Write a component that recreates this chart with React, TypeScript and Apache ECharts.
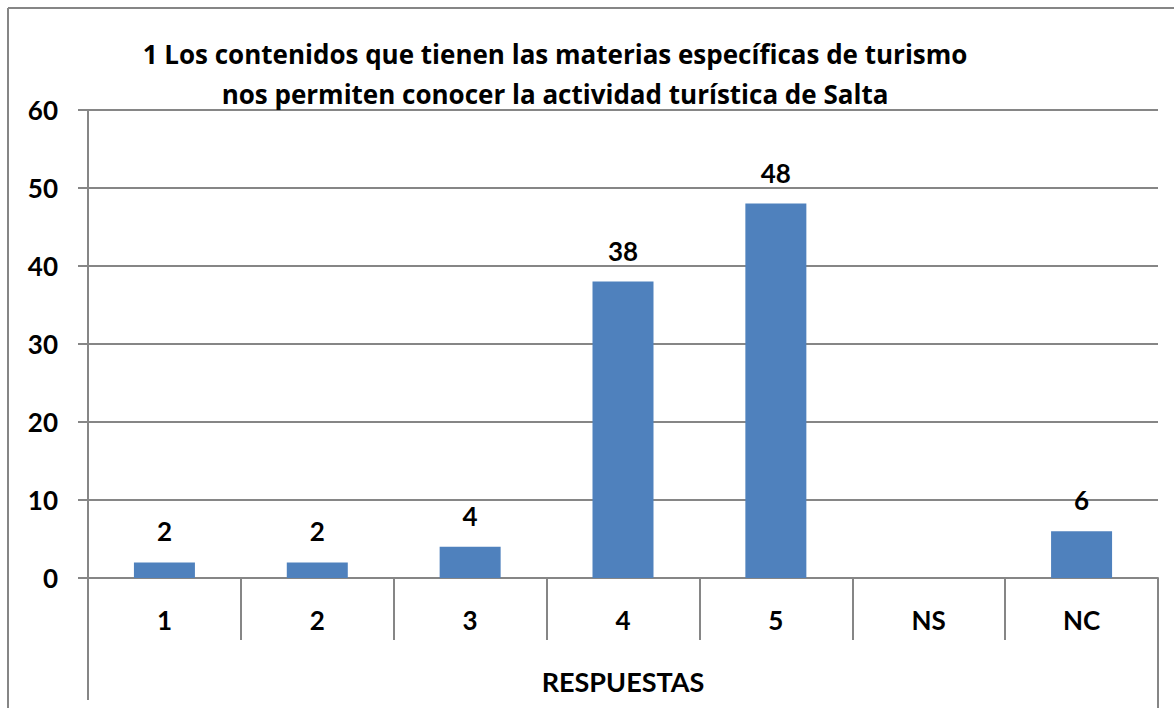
import React, { useEffect, useRef } from "react";
import * as echarts from "echarts";

const categories = ["1", "2", "3", "4", "5", "NS", "NC"];
const values = [2, 2, 4, 38, 48, 0, 6];
const titleLines = [
  "1 Los contenidos que tienen las materias específicas de turismo",
  "nos permiten conocer la actividad turística de Salta",
];
const xAxisName = "RESPUESTAS";

const FONT = "Lato, 'Open Sans', sans-serif";
const TITLE_FONT = "'Open Sans', Lato, sans-serif";
const GRAY = "#868686";

export default function App() {
  const ref = useRef<HTMLDivElement>(null);
  useEffect(() => {
    if (!ref.current) return;
    const chart = echarts.init(ref.current, null, { renderer: "svg" });
    chart.setOption({
      animation: false,
      backgroundColor: "#ffffff",
      textStyle: { fontFamily: FONT },
      title: {
        text: titleLines.join("\n"),
        left: 550,
        textAlign: "center",
        top: 29,
        textStyle: {
          fontFamily: TITLE_FONT,
          fontWeight: "bold",
          fontSize: 26,
          lineHeight: 40,
          color: "#000",
        },
      },
      grid: { left: 88, right: 16, top: 110, bottom: 130, containLabel: false },
      xAxis: {
        type: "category",
        data: categories,
        name: xAxisName,
        nameLocation: "middle",
        nameGap: 90,
        nameTextStyle: { fontFamily: FONT, fontWeight: "bold", fontSize: 27, color: "#000" },
        axisLine: { show: true, lineStyle: { color: GRAY, width: 2 } },
        axisTick: { show: true, length: 62, interval: 0, lineStyle: { color: GRAY, width: 2 } },
        axisLabel: { margin: 29, interval: 0, fontFamily: FONT, fontWeight: "bold", fontSize: 26, color: "#000" },
        splitLine: { show: false },
      },
      yAxis: {
        type: "value",
        min: 0,
        max: 60,
        interval: 10,
        axisLine: { show: true, lineStyle: { color: GRAY, width: 2 } },
        axisTick: { show: true, length: 10, lineStyle: { color: GRAY, width: 2 } },
        axisLabel: { margin: 30, fontFamily: FONT, fontWeight: "bold", fontSize: 26, color: "#000" },
        splitLine: { show: true, lineStyle: { color: GRAY, width: 2 } },
      },
      series: [
        {
          type: "bar",
          data: values,
          barWidth: 61,
          itemStyle: { color: "#4F81BD" },
          label: {
            show: true,
            position: "top",
            distance: 18,
            fontFamily: FONT,
            fontWeight: "bold",
            fontSize: 26,
            color: "#000",
            formatter: (p: any) => (p.value === 0 ? "" : String(p.value)),
          },
        },
      ],
      graphic: [
        { type: "line", shape: { x1: 8, y1: 8, x2: 1174, y2: 8 }, style: { stroke: GRAY, lineWidth: 2 } },
        { type: "line", shape: { x1: 8, y1: 8, x2: 8, y2: 708 }, style: { stroke: GRAY, lineWidth: 2 } },
        { type: "line", shape: { x1: 88, y1: 578, x2: 88, y2: 700 }, style: { stroke: GRAY, lineWidth: 2 } },
        { type: "line", shape: { x1: 1158, y1: 578, x2: 1158, y2: 708 }, style: { stroke: GRAY, lineWidth: 2 } },
      ],
    });
    return () => chart.dispose();
  }, []);
  return (
    <div
      ref={ref}
      style={{ position: "absolute", left: 0, top: 0, width: 1174, height: 708 }}
    />
  );
}
